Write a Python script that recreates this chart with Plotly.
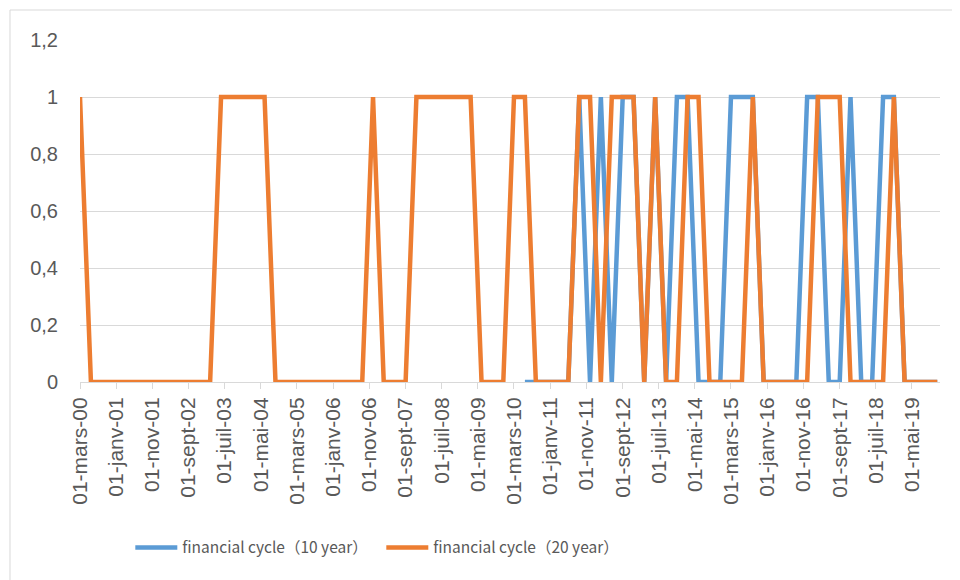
import pandas as pd
import plotly.graph_objects as go

# Quarterly observations, March 2000 to December 2019
dates = pd.date_range("2000-03-01", periods=80, freq="3MS")

# financial cycle (20 year): Mar, Jun, Sep, Dec of each year 2000..2019
cycle_20y = [
    1, 0, 0, 0,   # 2000
    0, 0, 0, 0,   # 2001
    0, 0, 0, 0,   # 2002
    0, 1, 1, 1,   # 2003
    1, 1, 0, 0,   # 2004
    0, 0, 0, 0,   # 2005
    0, 0, 0, 1,   # 2006
    0, 0, 0, 1,   # 2007
    1, 1, 1, 1,   # 2008
    1, 0, 0, 0,   # 2009
    1, 1, 0, 0,   # 2010
    0, 0, 1, 1,   # 2011
    0, 1, 1, 1,   # 2012
    0, 1, 0, 0,   # 2013
    1, 1, 0, 0,   # 2014
    0, 0, 1, 0,   # 2015
    0, 0, 0, 0,   # 2016
    1, 1, 1, 0,   # 2017
    0, 0, 0, 1,   # 2018
    0, 0, 0, 0,   # 2019
]

# financial cycle (10 year): available from June 2010
cycle_10y = [None] * 40 + [
    None, 0, 0, 0,   # 2010
    0, 0, 1, 0,      # 2011
    1, 0, 1, 1,      # 2012
    0, 1, 0, 1,      # 2013
    1, 0, 0, 0,      # 2014
    1, 1, 1, 0,      # 2015
    0, 0, 0, 1,      # 2016
    1, 0, 0, 1,      # 2017
    0, 0, 1, 1,      # 2018
    0, 0, 0, 0,      # 2019
]

series_names = ["financial cycle（10 year）", "financial cycle（20 year）"]

tick_dates = [
    "2000-03-01", "2001-01-01", "2001-11-01", "2002-09-01", "2003-07-01",
    "2004-05-01", "2005-03-01", "2006-01-01", "2006-11-01", "2007-09-01",
    "2008-07-01", "2009-05-01", "2010-03-01", "2011-01-01", "2011-11-01",
    "2012-09-01", "2013-07-01", "2014-05-01", "2015-03-01", "2016-01-01",
    "2016-11-01", "2017-09-01", "2018-07-01", "2019-05-01",
]
tick_labels = [
    "01-mars-00", "01-janv-01", "01-nov-01", "01-sept-02", "01-juil-03",
    "01-mai-04", "01-mars-05", "01-janv-06", "01-nov-06", "01-sept-07",
    "01-juil-08", "01-mai-09", "01-mars-10", "01-janv-11", "01-nov-11",
    "01-sept-12", "01-juil-13", "01-mai-14", "01-mars-15", "01-janv-16",
    "01-nov-16", "01-sept-17", "01-juil-18", "01-mai-19",
]

BLUE = "#5B9BD5"
ORANGE = "#ED7D31"
TXT = "#595959"
GRID = "#D9D9D9"

fig = go.Figure()
fig.add_trace(go.Scatter(x=dates, y=cycle_10y, mode="lines", name=series_names[0],
                         line=dict(color=BLUE, width=4.5), connectgaps=False))
fig.add_trace(go.Scatter(x=dates, y=cycle_20y, mode="lines", name=series_names[1],
                         line=dict(color=ORANGE, width=4.5)))

# page body has an 8px default margin: figure is 952x572 placed at (8, 8)
fig.update_layout(
    width=952, height=572,
    margin=dict(l=72, r=20, t=32, b=198),
    paper_bgcolor="white", plot_bgcolor="white",
    separators=", ",
    font=dict(family="Liberation Sans, Arial, sans-serif", color=TXT),
    showlegend=True,
    legend=dict(orientation="h", x=0.0585, xanchor="left", y=-0.485, yanchor="middle",
                font=dict(family="Noto Sans CJK SC, Liberation Sans", size=15.5, color=TXT),
                entrywidth=194, entrywidthmode="pixels", itemwidth=42,
                bgcolor="rgba(0,0,0,0)"),
    shapes=[dict(type="rect", xref="paper", yref="paper",
                 x0=-0.0814, x1=1.04, y0=-0.6, y1=1.0877,
                 line=dict(color=GRID, width=1), fillcolor="rgba(0,0,0,0)", layer="below")],
)

fig.update_xaxes(
    type="date",
    range=["2000-03-01", "2019-12-24"],
    tickvals=tick_dates, ticktext=tick_labels,
    tickangle=-90,
    tickfont=dict(size=21, color=TXT),
    showgrid=False,
    showline=True, linecolor=GRID, linewidth=1,
    ticks="outside", ticklen=6, tickcolor=GRID, tickwidth=1,
    zeroline=False,
)
fig.update_yaxes(
    range=[0, 1.2], dtick=0.2, tick0=0,
    tickfont=dict(size=20, color=TXT),
    showgrid=True, gridcolor=GRID, gridwidth=1,
    showline=False, zeroline=False,
    ticks="", ticklabelstandoff=21,
)

fig.write_html("out.html")
